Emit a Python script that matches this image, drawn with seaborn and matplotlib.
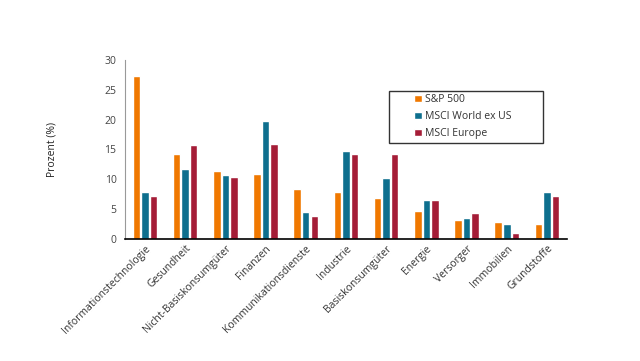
import matplotlib

matplotlib.use("Agg")

import matplotlib.pyplot as plt
import pandas as pd
import seaborn as sns
from matplotlib.patches import Rectangle

sectors = [
    "Informationstechnologie", "Gesundheit", "Nicht-Basiskonsumgüter", "Finanzen",
    "Kommunikationsdienste", "Industrie", "Basiskonsumgüter", "Energie",
    "Versorger", "Immobilien", "Grundstoffe",
]
sp500 = [27.3, 14.2, 11.4, 10.9, 8.4, 7.9, 6.8, 4.7, 3.1, 2.9, 2.5]
world_ex_us = [7.8, 11.7, 10.7, 19.8, 4.6, 14.8, 10.3, 6.6, 3.5, 2.5, 7.8]
europe = [7.2, 15.7, 10.4, 15.9, 3.8, 14.3, 14.3, 6.6, 4.3, 1.0, 7.2]
series_names = ["S&P 500", "MSCI World ex US", "MSCI Europe"]
colors = ["#F07800", "#0E6F8E", "#A51D37"]

rows = []
for name, vals in zip(series_names, [sp500, world_ex_us, europe]):
    for s, v in zip(sectors, vals):
        rows.append({"Sektor": s, "Index": name, "Wert": v})
df = pd.DataFrame(rows)

sns.set_theme(style="white")
plt.rcParams["font.family"] = ["Open Sans", "DejaVu Sans"]

fig = plt.figure(figsize=(6.4, 3.61), dpi=100)
ax = fig.add_axes([0.195, 0.338, 0.691, 0.496])

sns.barplot(data=df, x="Sektor", y="Wert", hue="Index", palette=colors,
            width=0.64, gap=0.12, saturation=1, ax=ax, errorbar=None)

ax.set_ylim(0, 30)
ax.set_yticks(range(0, 31, 5))
ax.set_xlim(-0.5, len(sectors) - 0.5)
ax.tick_params(axis="y", labelsize=7.5, colors="#444444", length=0, pad=6)
ax.tick_params(axis="x", labelsize=7.5, colors="#333333", length=0, pad=3)
plt.setp(ax.get_xticklabels(), rotation=45, ha="right", rotation_mode="anchor")
ax.set_xlabel("")
ax.set_ylabel("Prozent (%)", fontsize=7.5, color="#222222", labelpad=34)

for side in ["top", "right"]:
    ax.spines[side].set_visible(False)
ax.spines["left"].set_color("#999999")
ax.spines["left"].set_linewidth(0.8)
ax.spines["bottom"].set_color("black")
ax.spines["bottom"].set_linewidth(1.2)

# legend box drawn separately, entries without frame
ax.add_patch(Rectangle((0.597, 0.536), 0.349, 0.291, transform=ax.transAxes,
                       fill=False, edgecolor="#333333", linewidth=1.0,
                       clip_on=False, zorder=5))
leg = ax.legend(loc="upper left", bbox_to_anchor=(0.655, 0.81), fontsize=7.5,
                frameon=False, handlelength=0.7, handleheight=0.7,
                handletextpad=0.3, borderpad=0, labelspacing=0.6,
                borderaxespad=0)
for t in leg.get_texts():
    t.set_color("#333333")

fig.savefig("out.png", dpi=100)
